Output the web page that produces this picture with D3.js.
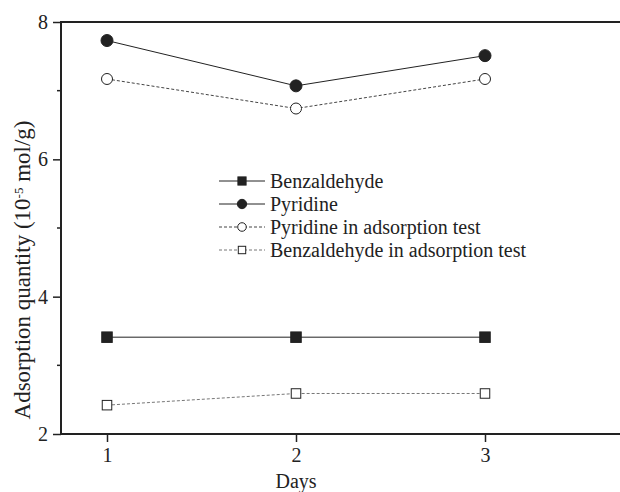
<!DOCTYPE html>
<html>
<head>
<meta charset="utf-8">
<script src="https://cdn.jsdelivr.net/npm/d3@7"></script>
<style>
  body { margin: 0; background: #fff; }
  text { font-family: "Liberation Serif", "DejaVu Serif", serif; fill: #222; }
</style>
</head>
<body>
<svg id="chart" width="620" height="492"></svg>
<script>
var days = [1, 2, 3];
var benzaldehyde = [3.41, 3.41, 3.41];
var pyridine = [7.73, 7.07, 7.51];
var pyridineTest = [7.17, 6.74, 7.17];
var benzaldehydeTest = [2.42, 2.59, 2.59];
var yTicks = [2, 4, 6, 8];
var yMinor = [3, 5, 7];

var series = [
  { name: "Benzaldehyde", values: benzaldehyde, dash: null, color: "#222", marker: "square", fill: "#222" },
  { name: "Pyridine", values: pyridine, dash: null, color: "#222", marker: "circle", fill: "#222" },
  { name: "Pyridine in adsorption test", values: pyridineTest, dash: "3,2", color: "#444", marker: "circle", fill: "#fff" },
  { name: "Benzaldehyde in adsorption test", values: benzaldehydeTest, dash: "3,2", color: "#777", marker: "square", fill: "#fff" }
];

var svg = d3.select("#chart");
var plotLeft = 61, plotTop = 22, plotBottom = 434, plotRight = 640;

var x = d3.scaleLinear().domain([1, 3]).range([107, 485]);
var y = d3.scaleLinear().domain([2, 8]).range([plotBottom, plotTop]);

var yAxis = svg.append("g")
  .attr("transform", "translate(" + plotLeft + ",0)")
  .call(d3.axisLeft(y).tickValues(yTicks).tickSize(8).tickPadding(5).tickFormat(d3.format("d")));
yAxis.append("g").selectAll("line").data(yMinor).enter().append("line")
  .attr("x1", -4).attr("x2", 0)
  .attr("y1", function (d) { return y(d); })
  .attr("y2", function (d) { return y(d); })
  .attr("stroke", "#222").attr("stroke-width", 1.5);

var xAxis = svg.append("g")
  .attr("transform", "translate(0," + plotBottom + ")")
  .call(d3.axisBottom(x).tickValues(days).tickSize(8).tickPadding(6).tickFormat(d3.format("d")));

[yAxis, xAxis].forEach(function (g) {
  g.select(".domain").remove();
  g.selectAll(".tick line").attr("stroke", "#222").attr("stroke-width", 1.5);
  g.selectAll(".tick text").attr("font-family", "Liberation Serif, serif")
    .style("font-size", "20px").attr("fill", "#222");
});

// frame lines (top and bottom run off the right edge)
svg.append("line").attr("x1", plotLeft).attr("x2", plotRight).attr("y1", plotTop).attr("y2", plotTop)
  .attr("stroke", "#222").attr("stroke-width", 2);
svg.append("line").attr("x1", plotLeft).attr("x2", plotLeft).attr("y1", plotTop - 1).attr("y2", plotBottom + 1)
  .attr("stroke", "#222").attr("stroke-width", 2);
svg.append("line").attr("x1", plotLeft).attr("x2", plotRight).attr("y1", plotBottom).attr("y2", plotBottom)
  .attr("stroke", "#222").attr("stroke-width", 2);

var line = d3.line()
  .x(function (d, i) { return x(days[i]); })
  .y(function (d) { return y(d); });

// k scales markers down for the legend
function drawMarker(g, s, cx, cy, k) {
  if (s.marker == "circle") {
    var r = (s.fill == "#fff" ? 5.5 : 6) * k;
    g.append("circle").attr("cx", cx).attr("cy", cy).attr("r", r)
      .attr("fill", s.fill).attr("stroke", "#222").attr("stroke-width", 1);
  } else {
    var w = (s.fill == "#fff" ? 9.5 : 10.5) * k;
    g.append("rect").attr("x", cx - w / 2).attr("y", cy - w / 2)
      .attr("width", w).attr("height", w)
      .attr("fill", s.fill).attr("stroke", "#222").attr("stroke-width", 1);
  }
}

series.forEach(function (s) {
  svg.append("path")
    .datum(s.values)
    .attr("d", line)
    .attr("fill", "none")
    .attr("stroke", s.color)
    .attr("stroke-width", 1)
    .attr("stroke-dasharray", s.dash);
  var g = svg.append("g");
  s.values.forEach(function (v, i) {
    drawMarker(g, s, x(days[i]), y(v), 1);
  });
});

// legend
var legendY = [181, 204, 227, 250];
series.forEach(function (s, i) {
  var ly = legendY[i];
  svg.append("line").attr("x1", 219).attr("x2", 265).attr("y1", ly).attr("y2", ly)
    .attr("stroke", s.color).attr("stroke-width", 1).attr("stroke-dasharray", s.dash);
  var g = svg.append("g");
  drawMarker(g, s, 242, ly, 0.78);
  svg.append("text").attr("x", 270).attr("y", ly + 6.5)
    .attr("font-size", "20px").text(s.name);
});

// axis titles
svg.append("text")
  .attr("x", 296).attr("y", 488)
  .attr("text-anchor", "middle")
  .attr("font-size", "20px")
  .text("Days");

var yt = svg.append("text")
  .attr("transform", "translate(30," + 270 + ") rotate(-90)")
  .attr("text-anchor", "middle")
  .attr("font-size", "23px");
yt.append("tspan").text("Adsorption quantity (10");
yt.append("tspan").attr("baseline-shift", "super").attr("font-size", "13px").text("-5");
yt.append("tspan").text(" mol/g)");
</script>
</body>
</html>
